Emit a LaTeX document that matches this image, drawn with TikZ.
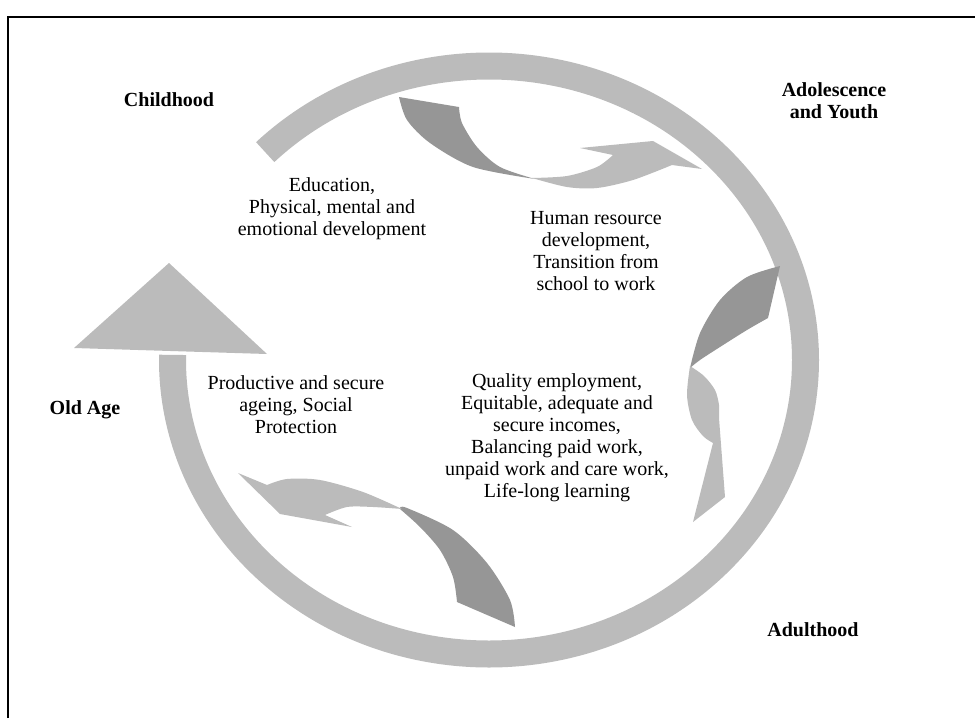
\documentclass[tikz,border=0pt]{standalone}
\usepackage{fontspec}
\setmainfont{Liberation Serif}
\begin{document}
\begin{tikzpicture}[x=1pt,y=-1pt,
  lt/.style={fill={rgb,255:red,187;green,187;blue,187}},
  dk/.style={fill={rgb,255:red,150;green,150;blue,150}},
  body/.style={align=center,font=\fontsize{20}{22}\selectfont,inner sep=0pt},
  stage/.style={align=center,font=\fontsize{20}{22}\selectfont\bfseries,inner sep=0pt}]
\useasboundingbox (0,0) rectangle (975,718);
% frame
\draw[line width=2pt] (7.5,718) -- (7.5,16.5) -- (975,16.5);
% ring
\draw[line width=27pt,color={rgb,255:red,187;green,187;blue,187}]
  (489,360) ++(225:316.5 and 294) arc[start angle=225,end angle=541,x radius=316.5,y radius=294];
\fill[lt] (74,348) -- (169,263) -- (267,354) -- cycle;
% top arrow
\fill[dk] plot[smooth] coordinates {(459,107) (462,123) (477,147) (500,167) (535,179)}
  -- plot[smooth] coordinates {(535,179) (473,167) (430,143) (407,120) (399,97)} -- cycle;
\fill[lt] plot[smooth] coordinates {(532,178) (567,187) (597,188) (633,180) (672,165)}
  -- (702,169) -- (653,141) -- (580,148) -- (613,155)
  -- plot[smooth] coordinates {(613,155) (597,167) (567,176) (532,178)} -- cycle;
% right arrow
\fill[dk] plot[smooth] coordinates {(780,266) (747,277) (720,300) (700,333) (690,368)}
  -- plot[smooth] coordinates {(690,368) (700,360) (720,347) (747,330) (768,318)} -- cycle;
\fill[lt] plot[smooth] coordinates {(690,366) (687,395) (692,420) (703,436) (713,443)}
  -- (693,522) -- (725,497) -- (719,418)
  -- plot[smooth] coordinates {(719,418) (719,405) (715,390) (704,376) (690,366)} -- cycle;
% bottom-left arrow
\fill[dk] (515,627) -- (457,602)
  -- plot[smooth] coordinates {(457,602) (453,577) (440,550) (420,527) (400,509)}
  -- plot[smooth] coordinates {(400,508) (407,508) (453,530) (487,563) (510,600) (515,627)} -- cycle;
\fill[lt] plot[smooth] coordinates {(402,509) (363,492) (320,480) (287,479) (267,485)}
  -- (238,473) -- (280,514) -- (352,527) -- (325,515)
  -- plot[smooth] coordinates {(325,515) (347,507) (373,507) (402,509)} -- cycle;
% stage labels
\node[stage] (child) at (169,100) {Childhood};
\node[stage] (adol) at (834,101) {Adolescence\\and Youth};
\node[stage] (adult) at (813,630) {Adulthood};
\node[stage] (old) at (85,410) {Old Age};
% body texts
\node[body] (edu) at (332,209) {Education,\\Physical, mental and\\emotional development};
\node[body] (hrd) at (596,251) {Human resource\\development,\\Transition from\\school to work};
\node[body] (qual) at (557,438) {Quality employment,\\Equitable, adequate and\\secure incomes,\\Balancing paid work,\\unpaid work and care work,\\Life-long learning};
\node[body] (prod) at (296,405) {Productive and secure\\ageing, Social\\Protection};
\end{tikzpicture}
\end{document}
